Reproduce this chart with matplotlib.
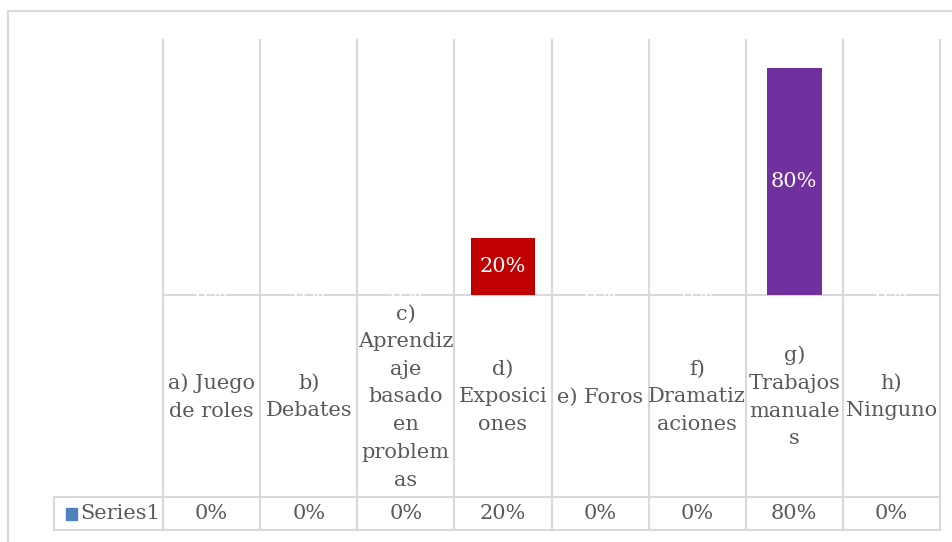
import numpy as np
import matplotlib
matplotlib.use('Agg')
import matplotlib.pyplot as plt
from matplotlib.lines import Line2D
from matplotlib.patches import Rectangle

categories = ['a) Juego\nde roles', 'b)\nDebates',
              'c)\nAprendiz\naje\nbasado\nen\nproblem\nas',
              'd)\nExposici\nones', 'e) Foros', 'f)\nDramatiz\naciones',
              'g)\nTrabajos\nmanuale\ns', 'h)\nNinguno']
values = [0.0, 0.0, 0.0, 0.20, 0.0, 0.0, 0.80, 0.0]
series_name = 'Series1'
bar_colors = ['#4F81BD', '#4F81BD', '#4F81BD', '#C00000',
              '#4F81BD', '#4F81BD', '#7030A0', '#4F81BD']
bar_widths = [0.6, 0.6, 0.6, 0.66, 0.6, 0.6, 0.57, 0.6]

W, H = 952, 542
fig = plt.figure(figsize=(W / 100, H / 100), dpi=100)
fig.patch.set_facecolor('white')

grid_c = '#D9D9D9'
text_c = '#595959'
font = 'DejaVu Serif'
fs = 15

# plot area in pixels
x0, x1 = 163, 940
y_top, y_base = 40, 295
ax = fig.add_axes([x0 / W, 1 - y_base / H, (x1 - x0) / W, (y_base - y_top) / H])
ax.set_xlim(-0.5, len(categories) - 0.5)
ax.set_ylim(0, 0.9)
ax.axis('off')

x = np.arange(len(categories))
bars = ax.bar(x, values, width=bar_widths, color=bar_colors, zorder=3)
for xi, v in zip(x, values):
    ax.text(xi, v / 2, f'{v:.0%}', ha='center', va='center', color='white',
            fontsize=fs, family=font, zorder=4)

# row positions in axes fraction (below the plot area)
px = 1.0 / (y_base - y_top)
row1_bot = -(497 - y_base) * px
row2_bot = -(530 - y_base) * px
trans = ax.get_xaxis_transform()

# vertical gridlines through the table
for b in np.arange(-0.5, len(categories), 1.0):
    ax.add_line(Line2D([b, b], [1, row2_bot], transform=trans, color=grid_c,
                       lw=1.5, clip_on=False, zorder=1))
# horizontal table lines
dx = (len(categories)) / (x1 - x0)
left_cell = -0.5 - (x0 - 54) * dx
ax.add_line(Line2D([-0.5, len(categories) - 0.5], [0, 0], transform=trans,
                   color=grid_c, lw=1.5, clip_on=False, zorder=2))
for yy in (row1_bot, row2_bot):
    ax.add_line(Line2D([left_cell, len(categories) - 0.5], [yy, yy], transform=trans,
                       color=grid_c, lw=1.5, clip_on=False, zorder=1))
ax.add_line(Line2D([left_cell, left_cell], [row1_bot, row2_bot], transform=trans,
                   color=grid_c, lw=1.5, clip_on=False, zorder=1))

# category labels and values
for xi, lab, v in zip(x, categories, values):
    ax.text(xi, -(397 - y_base) * px, lab, transform=trans, ha='center', va='center',
            color=text_c, fontsize=fs, family=font, linespacing=1.58, multialignment='center')
    ax.text(xi, (row1_bot + row2_bot) / 2, f'{v:.0%}', transform=trans, ha='center',
            va='center', color=text_c, fontsize=fs, family=font)

# legend key + series name
ax.add_patch(Rectangle((left_cell + 12 * dx, (row1_bot + row2_bot) / 2 - 6 * px),
                       11 * dx, 12 * px, transform=trans, color='#4F81BD', clip_on=False))
ax.text(left_cell + 26 * dx, (row1_bot + row2_bot) / 2, series_name, transform=trans,
        ha='left', va='center', color=text_c, fontsize=fs, family=font)

# outer chart frame
fig.add_artist(Line2D([8 / W, 8 / W], [0, 1 - 11 / H], color=grid_c, lw=1.5))
fig.add_artist(Line2D([8 / W, 1], [1 - 11 / H, 1 - 11 / H], color=grid_c, lw=1.5))

fig.savefig('out.png', dpi=100)
